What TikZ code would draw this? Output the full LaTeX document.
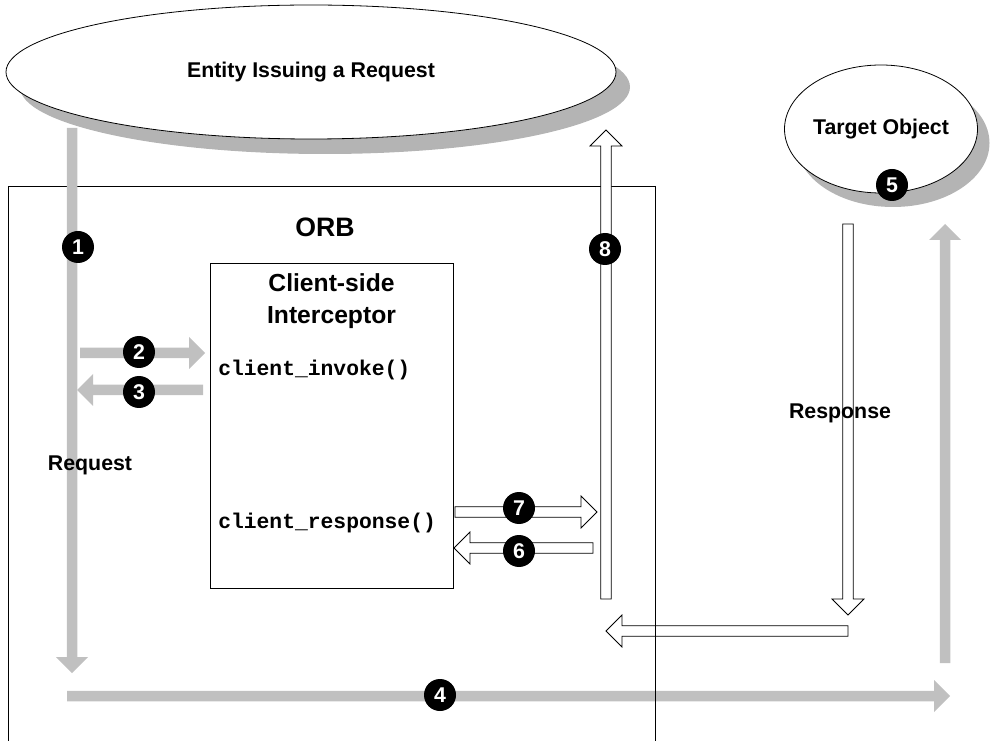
\documentclass[tikz,border=0pt]{standalone}
\usepackage{fontspec}
\setmainfont{Liberation Sans}
\setmonofont{Liberation Mono}
\usetikzlibrary{shapes.geometric,positioning}
\definecolor{flowgrey}{RGB}{192,192,192}
\definecolor{shadowgrey}{RGB}{180,180,180}
% block arrow: style, start, angle, length (px)
\newcommand{\blockarrow}[4]{%
  \begin{scope}[shift={#2},rotate=#3]
    \path[#1] (0,-5.25) -- (#4-16,-5.25) -- (#4-16,-16) -- (#4,0)
      -- (#4-16,16) -- (#4-16,5.25) -- (0,5.25) -- cycle;
  \end{scope}}
\begin{document}
\begin{tikzpicture}[x=0.75pt,y=-0.75pt,
  greyarrow/.style={fill=flowgrey},
  hollowarrow/.style={draw=black,fill=white,line width=0.6pt},
  numbadge/.style={circle,fill=black,text=white,inner sep=0pt,minimum size=24pt,
    font=\fontsize{16}{16}\selectfont\bfseries},
  lbl/.style={font=\fontsize{16}{19}\selectfont\bfseries},
  call/.style={anchor=west,inner sep=0pt,font=\fontsize{16}{19}\selectfont\ttfamily\bfseries},
  blob/.style={ellipse,draw=black,fill=white,inner sep=0pt,line width=0.6pt},
  blobshadow/.style={ellipse,fill=shadowgrey,inner sep=0pt}]
\useasboundingbox (0,0) rectangle (996,741);
\clip (0,0) rectangle (996,741);
% Entities
\node[blobshadow,minimum width=457.5pt,minimum height=100.5pt] at (325,87) {};
\node[blob,lbl,minimum width=457.5pt,minimum height=100.5pt] (entity) at (311,72) {Entity Issuing a Request};
\node[blobshadow,minimum width=144.75pt,minimum height=96pt] at (893,143) {};
\node[blob,lbl,minimum width=144.75pt,minimum height=96pt] (target) at (881,129) {Target Object};
% ORB and interceptor
\draw[line width=0.6pt] (8,750) |- (655,186);
\node[font=\fontsize{20}{24}\selectfont\bfseries] (orb) at (325,227) {ORB};
\node[draw,fill=white,line width=0.6pt,minimum width=182.25pt,minimum height=243.75pt,inner sep=0pt] (icpt) at (331.5,425.5) {};
\node[font=\fontsize{18.5}{24}\selectfont\bfseries,align=center] (icpt title) at (331.5,301) {Client-side\\Interceptor};
\node[call] (invoke) at (218,370) {client\_invoke()};
\node[call] (response) at (218,523) {client\_response()};
% Arrow ends
\coordinate (req top) at (72,128);
\coordinate (inv start) at (80,353);
\coordinate (inv back) at (203,390);
\coordinate (fwd start) at (67,696);
\coordinate (tgt start) at (945,663);
\coordinate (resp top) at (848,224);
\coordinate (resp turn) at (848,631);
\coordinate (rsp start) at (455,512);
\coordinate (rsp back) at (593,548);
\coordinate (ret start) at (606,599);
% Request path
\blockarrow{greyarrow}{(req top)}{-90}{545}
\blockarrow{greyarrow}{(inv start)}{0}{125}
\blockarrow{greyarrow}{(inv back)}{180}{126}
\blockarrow{greyarrow}{(fwd start)}{0}{883}
\blockarrow{greyarrow}{(tgt start)}{90}{439}
% Response path
\blockarrow{hollowarrow}{(resp top)}{-90}{391}
\blockarrow{hollowarrow}{(resp turn)}{180}{242}
\blockarrow{hollowarrow}{(rsp start)}{0}{142}
\blockarrow{hollowarrow}{(rsp back)}{180}{139}
\blockarrow{hollowarrow}{(ret start)}{90}{469}
\draw[line width=0.6pt] (655,186) -- (655,750);
% Labels and steps
\node[lbl] (req lbl) at (90,465) {Request};
\node[lbl] (resp lbl) at (840,413) {Response};
\node[numbadge] (n1) at (78,247) {1};
\node[numbadge] (n2) at (139,352) {2};
\node[numbadge] (n3) at (139,392) {3};
\node[numbadge] (n4) at (440,695) {4};
\node[numbadge] (n5) at (892,185) {5};
\node[numbadge] (n6) at (519,551) {6};
\node[numbadge] (n7) at (519,508) {7};
\node[numbadge] (n8) at (605,249) {8};
\end{tikzpicture}
\end{document}
